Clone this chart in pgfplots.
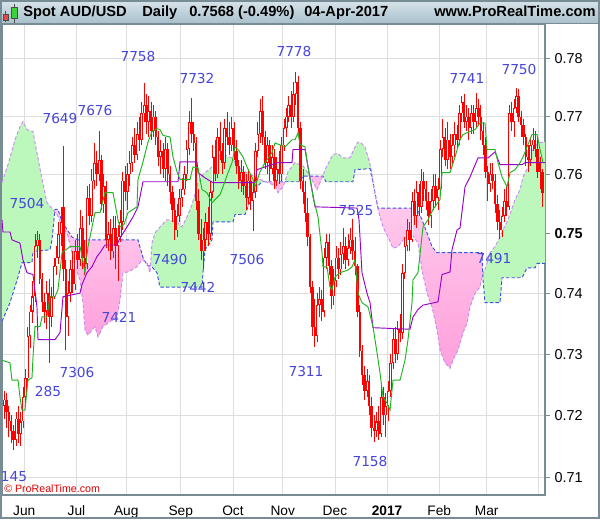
\documentclass[border=0pt]{standalone}
\usepackage{pgfplots}
\pgfplotsset{compat=1.18}
\usepackage{pgfplotstable}
\usepackage{fontspec}
\setmainfont{Liberation Sans}
\newfontfamily\dejavu{DejaVu Sans}

\definecolor{cgreen}{RGB}{188,248,188}
\definecolor{cpink}{RGB}{255,188,230}
\definecolor{cpinktop}{RGB}{255,205,238}
\definecolor{cpinkbot}{RGB}{255,160,220}
\definecolor{clav}{RGB}{200,140,240}
\definecolor{cblue}{RGB}{60,80,230}
\definecolor{ctenkan}{RGB}{30,180,30}
\definecolor{ckijun}{RGB}{150,0,200}
\definecolor{cred}{RGB}{255,0,0}
\definecolor{lblue}{RGB}{70,70,220}
\definecolor{gridc}{RGB}{222,222,222}
\definecolor{axc}{RGB}{120,140,150}
\definecolor{bartop}{RGB}{216,228,234}
\definecolor{barbot}{RGB}{168,192,204}

\pgfplotstableread{
d o h l c
0 0.7215 0.7240 0.7195 0.7225
1 0.7225 0.7235 0.7180 0.7205
2 0.7205 0.7215 0.7165 0.7190
3 0.7190 0.7200 0.7155 0.7175
4 0.7175 0.7185 0.7145 0.7160
5 0.7160 0.7205 0.7150 0.7195
6 0.7195 0.7215 0.7155 0.7170
7 0.7170 0.7205 0.7150 0.7190
8 0.7190 0.7245 0.7180 0.7230
9 0.7230 0.7275 0.7215 0.7260
10 0.7260 0.7345 0.7250 0.7330
11 0.7330 0.7380 0.7310 0.7370
12 0.7370 0.7420 0.7350 0.7395
13 0.7395 0.7500 0.7385 0.7480
14 0.7480 0.7504 0.7460 0.7490
15 0.7490 0.7500 0.7415 0.7425
16 0.7425 0.7435 0.7370 0.7385
17 0.7385 0.7400 0.7350 0.7370
18 0.7370 0.7420 0.7340 0.7400
19 0.7400 0.7425 0.7285 0.7360
20 0.7360 0.7410 0.7345 0.7395
21 0.7395 0.7460 0.7390 0.7445
22 0.7445 0.7480 0.7430 0.7460
23 0.7460 0.7520 0.7450 0.7500
24 0.7500 0.7545 0.7480 0.7520
25 0.7545 0.7649 0.7420 0.7440
26 0.7440 0.7455 0.7306 0.7360
27 0.7360 0.7420 0.7330 0.7400
28 0.7400 0.7455 0.7385 0.7440
29 0.7440 0.7470 0.7400 0.7415
30 0.7415 0.7490 0.7405 0.7470
31 0.7470 0.7500 0.7440 0.7455
32 0.7455 0.7540 0.7445 0.7510
33 0.7510 0.7530 0.7440 0.7460
34 0.7460 0.7490 0.7430 0.7450
35 0.7450 0.7580 0.7440 0.7560
36 0.7560 0.7585 0.7515 0.7530
37 0.7530 0.7610 0.7520 0.7590
38 0.7590 0.7655 0.7575 0.7620
39 0.7620 0.7640 0.7580 0.7600
40 0.7600 0.7676 0.7590 0.7625
41 0.7625 0.7635 0.7540 0.7550
42 0.7550 0.7600 0.7535 0.7580
43 0.7580 0.7590 0.7475 0.7490
44 0.7490 0.7520 0.7470 0.7500
45 0.7500 0.7525 0.7455 0.7470
46 0.7470 0.7530 0.7460 0.7510
47 0.7510 0.7530 0.7440 0.7480
48 0.7480 0.7515 0.7421 0.7495
49 0.7495 0.7540 0.7485 0.7520
50 0.7520 0.7605 0.7505 0.7590
51 0.7590 0.7615 0.7555 0.7570
52 0.7570 0.7620 0.7540 0.7600
53 0.7600 0.7640 0.7580 0.7620
54 0.7620 0.7665 0.7605 0.7650
55 0.7650 0.7680 0.7620 0.7635
56 0.7635 0.7690 0.7625 0.7670
57 0.7670 0.7700 0.7640 0.7660
58 0.7660 0.7725 0.7650 0.7705
59 0.7705 0.7758 0.7690 0.7720
60 0.7720 0.7740 0.7670 0.7690
61 0.7690 0.7735 0.7665 0.7710
62 0.7710 0.7725 0.7660 0.7675
63 0.7675 0.7720 0.7665 0.7700
64 0.7700 0.7710 0.7650 0.7665
65 0.7665 0.7675 0.7615 0.7630
66 0.7630 0.7660 0.7600 0.7640
67 0.7640 0.7655 0.7595 0.7610
68 0.7610 0.7665 0.7590 0.7645
69 0.7645 0.7655 0.7580 0.7600
70 0.7600 0.7615 0.7550 0.7570
71 0.7570 0.7580 0.7520 0.7540
72 0.7540 0.7560 0.7490 0.7505
73 0.7505 0.7550 0.7495 0.7530
74 0.7530 0.7575 0.7520 0.7560
75 0.7560 0.7595 0.7545 0.7575
76 0.7575 0.7615 0.7565 0.7600
77 0.7600 0.7660 0.7590 0.7645
78 0.7645 0.7710 0.7635 0.7690
79 0.7690 0.7732 0.7655 0.7670
80 0.7670 0.7690 0.7640 0.7655
81 0.7655 0.7665 0.7540 0.7555
82 0.7555 0.7575 0.7490 0.7500
83 0.7500 0.7525 0.7455 0.7470
84 0.7470 0.7510 0.7442 0.7490
85 0.7490 0.7535 0.7470 0.7520
86 0.7520 0.7545 0.7480 0.7500
87 0.7500 0.7590 0.7490 0.7570
88 0.7570 0.7650 0.7560 0.7630
89 0.7630 0.7660 0.7590 0.7600
90 0.7600 0.7680 0.7595 0.7665
91 0.7665 0.7690 0.7625 0.7640
92 0.7640 0.7655 0.7600 0.7620
93 0.7620 0.7695 0.7610 0.7680
94 0.7680 0.7708 0.7650 0.7665
95 0.7665 0.7690 0.7635 0.7650
96 0.7650 0.7700 0.7640 0.7680
97 0.7680 0.7690 0.7625 0.7640
98 0.7640 0.7660 0.7600 0.7615
99 0.7615 0.7625 0.7575 0.7590
100 0.7590 0.7625 0.7570 0.7605
101 0.7605 0.7615 0.7565 0.7580
102 0.7580 0.7600 0.7540 0.7560
103 0.7560 0.7610 0.7550 0.7590
104 0.7590 0.7600 0.7540 0.7555
105 0.7555 0.7590 0.7506 0.7570
106 0.7570 0.7655 0.7560 0.7640
107 0.7640 0.7690 0.7630 0.7670
108 0.7670 0.7730 0.7655 0.7710
109 0.7710 0.7735 0.7650 0.7665
110 0.7665 0.7675 0.7610 0.7620
111 0.7620 0.7665 0.7600 0.7650
112 0.7650 0.7660 0.7590 0.7610
113 0.7610 0.7650 0.7600 0.7630
114 0.7630 0.7645 0.7575 0.7590
115 0.7590 0.7630 0.7580 0.7610
116 0.7610 0.7640 0.7585 0.7600
117 0.7600 0.7665 0.7590 0.7650
118 0.7650 0.7695 0.7640 0.7680
119 0.7680 0.7715 0.7665 0.7700
120 0.7700 0.7735 0.7690 0.7720
121 0.7720 0.7745 0.7680 0.7700
122 0.7700 0.7760 0.7690 0.7740
123 0.7740 0.7778 0.7720 0.7760
124 0.7760 0.7770 0.7670 0.7680
125 0.7680 0.7690 0.7575 0.7590
126 0.7590 0.7610 0.7550 0.7570
127 0.7570 0.7590 0.7520 0.7535
128 0.7535 0.7560 0.7480 0.7495
129 0.7495 0.7500 0.7400 0.7410
130 0.7410 0.7420 0.7330 0.7345
131 0.7345 0.7390 0.7311 0.7330
132 0.7330 0.7400 0.7320 0.7380
133 0.7380 0.7410 0.7360 0.7390
134 0.7390 0.7405 0.7355 0.7370
135 0.7370 0.7475 0.7360 0.7460
136 0.7460 0.7500 0.7440 0.7485
137 0.7485 0.7500 0.7430 0.7445
138 0.7445 0.7455 0.7375 0.7395
139 0.7395 0.7440 0.7380 0.7420
140 0.7420 0.7480 0.7410 0.7460
141 0.7460 0.7475 0.7425 0.7440
142 0.7440 0.7485 0.7430 0.7465
143 0.7465 0.7510 0.7450 0.7480
144 0.7480 0.7495 0.7440 0.7455
145 0.7455 0.7500 0.7445 0.7475
146 0.7475 0.7510 0.7465 0.7490
147 0.7490 0.7525 0.7455 0.7470
148 0.7470 0.7495 0.7430 0.7445
149 0.7445 0.7450 0.7360 0.7370
150 0.7370 0.7380 0.7295 0.7305
151 0.7305 0.7315 0.7250 0.7265
152 0.7265 0.7280 0.7225 0.7240
153 0.7240 0.7275 0.7230 0.7255
154 0.7255 0.7265 0.7200 0.7215
155 0.7215 0.7230 0.7165 0.7180
156 0.7180 0.7200 0.7158 0.7175
157 0.7175 0.7205 0.7165 0.7190
158 0.7190 0.7215 0.7160 0.7170
159 0.7170 0.7250 0.7165 0.7230
160 0.7230 0.7245 0.7185 0.7200
161 0.7200 0.7235 0.7165 0.7215
162 0.7215 0.7255 0.7190 0.7240
163 0.7240 0.7300 0.7230 0.7285
164 0.7285 0.7340 0.7275 0.7325
165 0.7325 0.7345 0.7285 0.7300
166 0.7300 0.7355 0.7290 0.7340
167 0.7340 0.7365 0.7320 0.7335
168 0.7335 0.7450 0.7325 0.7435
169 0.7435 0.7495 0.7425 0.7480
170 0.7480 0.7525 0.7470 0.7505
171 0.7505 0.7520 0.7470 0.7490
172 0.7490 0.7570 0.7485 0.7555
173 0.7555 0.7575 0.7515 0.7530
174 0.7530 0.7590 0.7510 0.7570
175 0.7570 0.7585 0.7530 0.7545
176 0.7545 0.7610 0.7535 0.7590
177 0.7590 0.7605 0.7555 0.7575
178 0.7575 0.7590 0.7540 0.7555
179 0.7555 0.7570 0.7515 0.7530
180 0.7530 0.7575 0.7510 0.7555
181 0.7555 0.7600 0.7540 0.7580
182 0.7580 0.7600 0.7545 0.7560
183 0.7560 0.7595 0.7540 0.7575
184 0.7575 0.7660 0.7565 0.7645
185 0.7645 0.7695 0.7630 0.7665
186 0.7665 0.7680 0.7615 0.7625
187 0.7625 0.7690 0.7610 0.7660
188 0.7660 0.7670 0.7610 0.7630
189 0.7630 0.7670 0.7615 0.7650
190 0.7650 0.7690 0.7630 0.7670
191 0.7670 0.7685 0.7645 0.7660
192 0.7660 0.7720 0.7650 0.7705
193 0.7705 0.7735 0.7690 0.7725
194 0.7725 0.7740 0.7680 0.7690
195 0.7690 0.7720 0.7675 0.7700
196 0.7700 0.7715 0.7660 0.7680
197 0.7680 0.7720 0.7670 0.7705
198 0.7705 0.7720 0.7670 0.7690
199 0.7690 0.7741 0.7680 0.7715
200 0.7715 0.7730 0.7685 0.7700
201 0.7700 0.7720 0.7660 0.7675
202 0.7675 0.7690 0.7635 0.7650
203 0.7650 0.7665 0.7595 0.7605
204 0.7605 0.7615 0.7555 0.7585
205 0.7585 0.7620 0.7570 0.7600
206 0.7600 0.7620 0.7575 0.7590
207 0.7590 0.7600 0.7535 0.7550
208 0.7550 0.7565 0.7505 0.7520
209 0.7520 0.7540 0.7491 0.7505
210 0.7505 0.7545 0.7495 0.7530
211 0.7530 0.7575 0.7520 0.7555
212 0.7555 0.7580 0.7530 0.7545
213 0.7545 0.7720 0.7540 0.7705
214 0.7705 0.7725 0.7675 0.7690
215 0.7690 0.7730 0.7665 0.7715
216 0.7715 0.7750 0.7705 0.7735
217 0.7735 0.7748 0.7690 0.7700
218 0.7700 0.7710 0.7665 0.7685
219 0.7685 0.7695 0.7650 0.7665
220 0.7665 0.7670 0.7615 0.7630
221 0.7630 0.7650 0.7605 0.7625
222 0.7625 0.7665 0.7615 0.7650
223 0.7650 0.7680 0.7640 0.7660
224 0.7660 0.7675 0.7630 0.7645
225 0.7645 0.7665 0.7595 0.7605
226 0.7620 0.7630 0.7575 0.7605
227 0.7605 0.7610 0.7545 0.7568
}\candles

\pgfplotstableread{
d p
-0.9 0.72902
2.47 0.72853
3.31 0.72575
5.85 0.72575
6.68 0.72297
7.53 0.72085
8.79 0.72085
10.06 0.72575
11.75 0.72608
12.17 0.72951
13.01 0.73446
15.12 0.73446
16.0 0.73611
18.07 0.73611
19.34 0.73942
21.45 0.73942
22.71 0.74059
24.40 0.74678
27.77 0.74779
32.0 0.74779
32.83 0.74611
34.10 0.74343
35.37 0.74779
38.32 0.75353
40.43 0.75353
42.54 0.75692
45.91 0.75692
48.02 0.75234
48.86 0.75115
50.55 0.75149
52.23 0.75353
56.03 0.75454
56.45 0.75913
58.56 0.76221
60.67 0.76564
62.36 0.76736
64.47 0.76788
65.73 0.76771
67.0 0.76667
69.95 0.76650
71.22 0.76307
72.9 0.76050
74.17 0.75913
78.39 0.75913
79.65 0.76135
81.76 0.76118
83.44 0.75743
85.55 0.75692
87.66 0.75522
88.93 0.75573
91.04 0.75658
92.30 0.75794
94.41 0.76033
96.1 0.76204
97.36 0.76478
98.63 0.76426
100.74 0.76307
102.43 0.76135
104.96 0.75913
105.80 0.75794
107.91 0.76050
110.02 0.76204
112.97 0.76375
114.24 0.76547
118.46 0.76478
121.40 0.76598
122.67 0.76598
123.94 0.76719
124.78 0.76512
126.89 0.76478
128.15 0.76135
130.26 0.75624
132.37 0.75285
134.06 0.74678
134.48 0.74443
136.16 0.74443
137.43 0.74109
138.27 0.74059
139.54 0.74276
141.64 0.74343
145.02 0.74393
146.71 0.74443
147.97 0.74560
149.24 0.74008
150.92 0.73843
153.45 0.73776
155.56 0.73446
157.25 0.73017
158.52 0.72690
159.78 0.72297
161.47 0.72199
162.74 0.72085
164.00 0.72575
166.95 0.72575
169.06 0.72902
170.33 0.73231
172.01 0.73843
172.43 0.74226
174.54 0.74343
176.65 0.75115
178.76 0.75234
180.87 0.75403
183.83 0.75573
184.67 0.76033
188.04 0.76033
190.15 0.76307
192.26 0.76598
193.53 0.76684
198.59 0.76771
200.70 0.76891
202.80 0.76891
203.65 0.76426
207.02 0.76426
208.29 0.76204
209.97 0.75964
212.08 0.75794
213.35 0.76033
215.46 0.76084
217.57 0.76204
218.83 0.76307
220.52 0.76478
222.63 0.76684
224.74 0.76684
226.0 0.76426
227.27 0.76204
}\tenkan

\pgfplotstableread{
d p
-0.9 0.75234
-0.49 0.75031
2.47 0.75031
3.31 0.74896
6.68 0.74846
7.95 0.74560
9.64 0.74343
12.17 0.74309
13.85 0.73776
14.28 0.73231
21.45 0.73231
23.56 0.73347
24.82 0.73942
32.0 0.74008
32.83 0.74142
34.94 0.74343
37.05 0.74443
39.16 0.74611
40.43 0.74678
42.54 0.74812
47.6 0.74812
48.86 0.74930
51.81 0.75115
54.34 0.75285
56.45 0.75454
58.56 0.75879
73.32 0.75879
74.17 0.76221
81.34 0.76221
81.76 0.76033
84.71 0.75947
88.09 0.75862
105.80 0.75862
106.64 0.76084
110.02 0.76135
115.50 0.76204
121.40 0.76204
121.82 0.76426
126.89 0.76426
128.15 0.76135
129.84 0.75743
131.11 0.75454
148.82 0.75437
149.66 0.75234
150.92 0.74343
153.03 0.74008
154.30 0.73843
155.56 0.73429
171.17 0.73413
172.43 0.73611
174.54 0.73727
176.65 0.73810
182.98 0.73859
184.67 0.74309
188.04 0.74359
188.88 0.74728
191.0 0.75064
192.26 0.75098
194.37 0.75794
196.48 0.75964
199.85 0.76289
204.07 0.76289
207.02 0.76392
209.13 0.76170
218.41 0.76170
219.68 0.76204
228.1 0.76204
}\kijun

\pgfplotstableread{
d p
-0.9 0.75862
1.62 0.76170
4.58 0.76598
6.68 0.76822
7.95 0.76908
9.64 0.76771
12.17 0.76736
13.85 0.76375
16.0 0.75913
18.07 0.75522
20.60 0.75403
22.71 0.75302
24.40 0.75115
26.51 0.75014
28.62 0.74678
29.88 0.74443
32.0 0.74226
33.26 0.73843
34.10 0.73396
35.37 0.73314
37.05 0.73396
38.32 0.73446
39.58 0.73281
41.69 0.73446
44.65 0.73528
47.6 0.73594
48.86 0.73892
50.13 0.74343
52.23 0.74359
56.03 0.74443
58.14 0.74560
60.25 0.74510
61.51 0.74343
62.36 0.74846
63.62 0.75014
65.73 0.75115
68.68 0.75234
72.90 0.75200
75.01 0.75115
77.12 0.75285
79.23 0.75488
81.76 0.75862
83.87 0.75998
87.66 0.76135
88.93 0.76307
91.88 0.76341
96.10 0.76289
98.63 0.76135
101.58 0.76050
105.80 0.75964
107.91 0.75913
112.12 0.75845
114.24 0.75811
115.50 0.75692
117.61 0.75794
119.72 0.76050
122.67 0.76204
126.05 0.76153
129.0 0.75981
131.95 0.75743
134.06 0.75947
135.74 0.76118
138.69 0.76341
140.80 0.76358
142.91 0.76289
145.86 0.76289
147.97 0.76478
149.24 0.76564
150.50 0.76547
152.19 0.76478
153.45 0.76307
154.72 0.76118
156.41 0.75658
157.67 0.75403
159.78 0.75115
161.89 0.74946
164.0 0.74762
166.11 0.74779
168.22 0.74896
170.33 0.74930
172.43 0.74963
174.54 0.74846
176.23 0.74393
178.35 0.74008
180.46 0.73776
182.57 0.73396
183.83 0.73066
185.94 0.72853
188.04 0.72771
189.31 0.72902
191.42 0.73066
193.53 0.73347
195.21 0.73512
196.48 0.73776
198.59 0.74008
200.70 0.74109
201.96 0.74343
202.80 0.74393
204.91 0.74678
207.02 0.74779
209.13 0.74946
210.39 0.75064
212.50 0.75234
215.46 0.75573
217.57 0.75743
218.83 0.75964
220.94 0.76135
223.05 0.76426
225.16 0.76547
228.1 0.76564
}\spanA

\pgfplotstableread{
d p
-0.9 0.73540
2.47 0.73843
5.85 0.74276
7.53 0.74510
11.75 0.74510
12.17 0.74695
19.34 0.74728
20.18 0.74896
21.45 0.75403
22.71 0.75403
24.40 0.75200
28.62 0.74946
31.15 0.74896
56.45 0.74896
58.56 0.74594
60.25 0.74477
62.36 0.74443
64.47 0.74343
65.73 0.74109
83.44 0.74109
83.87 0.74343
84.71 0.74728
87.66 0.74896
88.09 0.75200
96.52 0.75200
97.36 0.75319
101.58 0.75319
102.85 0.75454
104.53 0.75624
106.64 0.75794
108.75 0.75879
124.78 0.75879
126.05 0.75981
134.48 0.75981
135.74 0.75879
147.13 0.75879
147.97 0.76084
154.30 0.76101
155.56 0.75862
157.67 0.75437
174.12 0.75437
176.23 0.75234
178.35 0.75014
180.46 0.74779
182.57 0.74678
201.54 0.74678
201.96 0.74226
202.80 0.73843
209.13 0.73843
209.97 0.74259
218.41 0.74259
220.52 0.74426
223.89 0.74426
224.74 0.74493
228.1 0.74493
}\spanB

% cloud polygons: span A forward, span B backward
\pgfplotstableread{
d p
-0.9 0.75862
1.62 0.76170
4.58 0.76598
6.68 0.76822
7.95 0.76908
9.64 0.76771
12.17 0.76736
13.85 0.76375
16.0 0.75913
18.07 0.75522
20.60 0.75403
21.35 0.75370
20.18 0.74896
19.34 0.74728
12.17 0.74695
11.75 0.74510
7.53 0.74510
5.85 0.74276
2.47 0.73843
-0.9 0.73540
}\gA

\pgfplotstableread{
d p
21.35 0.75370
22.71 0.75302
24.40 0.75115
26.51 0.75014
28.62 0.74678
29.88 0.74443
32.0 0.74226
33.26 0.73843
34.10 0.73396
35.37 0.73314
37.05 0.73396
38.32 0.73446
39.58 0.73281
41.69 0.73446
44.65 0.73528
47.6 0.73594
48.86 0.73892
50.13 0.74343
52.23 0.74359
56.03 0.74443
58.14 0.74560
60.25 0.74510
61.51 0.74343
61.70 0.74450
60.25 0.74477
58.56 0.74594
56.45 0.74896
31.15 0.74896
28.62 0.74946
24.40 0.75200
22.71 0.75403
21.45 0.75403
}\pA

\pgfplotstableread{
d p
61.70 0.74450
62.36 0.74846
63.62 0.75014
65.73 0.75115
68.68 0.75234
72.90 0.75200
75.01 0.75115
77.12 0.75285
79.23 0.75488
81.76 0.75862
83.87 0.75998
87.66 0.76135
88.93 0.76307
91.88 0.76341
96.10 0.76289
98.63 0.76135
101.58 0.76050
105.80 0.75964
107.91 0.75913
110.00 0.75879
108.75 0.75879
106.64 0.75794
104.53 0.75624
102.85 0.75454
101.58 0.75319
97.36 0.75319
96.52 0.75200
88.09 0.75200
87.66 0.74896
84.71 0.74728
83.87 0.74343
83.44 0.74109
65.73 0.74109
64.47 0.74343
62.36 0.74443
}\gB

\pgfplotstableread{
d p
110.00 0.75879
112.12 0.75845
114.24 0.75811
115.50 0.75692
117.61 0.75794
118.31 0.75879
}\pB

\pgfplotstableread{
d p
118.31 0.75879
119.72 0.76050
122.67 0.76204
126.05 0.76153
129.0 0.75981
126.05 0.75981
124.78 0.75879
}\gC

\pgfplotstableread{
d p
129.0 0.75981
131.95 0.75743
134.06 0.75947
134.40 0.75981
}\pC

\pgfplotstableread{
d p
134.40 0.75981
135.74 0.76118
138.69 0.76341
140.80 0.76358
142.91 0.76289
145.86 0.76289
147.97 0.76478
149.24 0.76564
150.50 0.76547
152.19 0.76478
153.45 0.76307
154.72 0.76118
155.90 0.75780
155.56 0.75862
154.30 0.76101
147.97 0.76084
147.13 0.75879
135.74 0.75879
134.48 0.75981
}\gD

\pgfplotstableread{
d p
155.90 0.75780
156.41 0.75658
157.67 0.75403
159.78 0.75115
161.89 0.74946
164.0 0.74762
166.11 0.74779
168.22 0.74896
170.33 0.74930
172.43 0.74963
174.54 0.74846
176.23 0.74393
178.35 0.74008
180.46 0.73776
182.57 0.73396
183.83 0.73066
185.94 0.72853
188.04 0.72771
189.31 0.72902
191.42 0.73066
193.53 0.73347
195.21 0.73512
196.48 0.73776
198.59 0.74008
200.70 0.74109
201.85 0.74310
201.54 0.74678
182.57 0.74678
180.46 0.74779
178.35 0.75014
176.23 0.75234
174.12 0.75437
157.67 0.75437
}\pD

\pgfplotstableread{
d p
201.85 0.74310
201.96 0.74343
202.80 0.74393
204.91 0.74678
207.02 0.74779
209.13 0.74946
210.39 0.75064
212.50 0.75234
215.46 0.75573
217.57 0.75743
218.83 0.75964
220.94 0.76135
223.05 0.76426
225.16 0.76547
228.1 0.76564
228.1 0.74493
224.74 0.74493
223.89 0.74426
220.52 0.74426
218.41 0.74259
209.97 0.74259
209.13 0.73843
202.80 0.73843
201.96 0.74226
}\gE

\begin{document}
\begin{tikzpicture}
\fill[white] (0,0) rectangle (450pt,389.25pt);
\begin{axis}[
  at={(1.5pt,18pt)}, anchor=south west,
  scale only axis, width=407.25pt, height=353.25pt,
  xmin=-0.9, xmax=228.1,
  ymode=log, ymin=0.7072, ymax=0.78621,
  xtick={8.5,30.5,51.5,74.5,96.5,117.5,139.5,161.5,183.5,203.5,225.5},
  xticklabels={Jun,Jul,Aug,Sep,Oct,Nov,Dec,\textbf{2017},Feb,Mar,},
  ytick={0.71,0.72,0.73,0.74,0.75,0.76,0.77,0.78},
  yticklabels={0.71,0.72,0.73,0.74,\textbf{0.75},0.76,0.77,0.78},
  minor tick num=0,
  yticklabel pos=right, ytick pos=right, xtick pos=bottom,
  tick align=outside, major tick length=3.75pt,
  xtick style={draw=none}, ytick style={draw=axc, line width=0.6pt},
  grid=major, major grid style={draw=gridc, line width=0.6pt},
  axis line style={draw=axc, line width=0.8pt},
  x tick label style={font=\fontsize{10.3}{12}\selectfont, yshift=-1pt},
  y tick label style={font=\fontsize{10.8}{12}\selectfont, text=black},
]
% cloud fills
\addplot[fill=cgreen, draw=none] table[x=d,y=p] {\gA};
\addplot[draw=none, top color=cpinktop, bottom color=cpinkbot] table[x=d,y=p] {\pA};
\addplot[fill=cgreen, draw=none] table[x=d,y=p] {\gB};
\addplot[fill=cpink, draw=none] table[x=d,y=p] {\pB};
\addplot[fill=cgreen, draw=none] table[x=d,y=p] {\gC};
\addplot[fill=cpink, draw=none] table[x=d,y=p] {\pC};
\addplot[fill=cgreen, draw=none] table[x=d,y=p] {\gD};
\addplot[draw=none, top color=cpinktop, bottom color=cpinkbot] table[x=d,y=p] {\pD};
\addplot[fill=cgreen, draw=none] table[x=d,y=p] {\gE};
% cloud edges
\addplot[draw=cblue, line width=0.7pt, dash pattern=on 2.6pt off 1.6pt] table[x=d,y=p] {\spanB};
\addplot[draw=clav, line width=0.7pt, dash pattern=on 2.6pt off 1.6pt] table[x=d,y=p] {\spanA};
% wicks
\addplot[draw=none, mark=none, error bars/.cd, y dir=plus, y explicit, error mark=none,
  error bar style={draw=cred, line width=0.6pt}]
  table[x=d, y=l, y error expr=\thisrow{h}-\thisrow{l}] {\candles};
% bodies
\addplot[draw=none, mark=none, error bars/.cd, y dir=plus, y explicit, error mark=none,
  error bar style={draw=cred, line width=1.8pt}]
  table[x=d, y expr={min(\thisrow{o},\thisrow{c})}, y error expr={abs(\thisrow{o}-\thisrow{c})}] {\candles};
% hollow interior of up candles
\addplot[draw=none, mark=none, error bars/.cd, y dir=plus, y explicit, error mark=none,
  error bar style={draw=white, line width=0.6pt}]
  table[x=d, y expr={\thisrow{o}+0.00014}, y error expr={max(\thisrow{c}-\thisrow{o}-0.00028,0)}] {\candles};
\addplot[ckijun, line width=0.7pt] table[x=d,y=p] {\kijun};
\addplot[ctenkan, line width=0.7pt] table[x=d,y=p] {\tenkan};
\end{axis}

\begin{scope}[shift={(0,389.25pt)}, x=0.75pt, y=-0.75pt]
  % title bar
  \shade[top color=bartop, bottom color=barbot] (0,0) rectangle (600,23.5);
  \draw[axc, line width=0.75pt] (0,23.5) -- (600,23.5);
  % icon
  \draw[black!70, line width=0.5pt] (5.8,11.5) -- (5.8,22);
  \filldraw[fill={rgb,255:red,235;green,70;blue,70}, draw=black!70, line width=0.4pt] (3.2,14) rectangle (8.4,20);
  \draw[black!70, line width=0.5pt] (14,4) -- (14,23);
  \filldraw[fill={rgb,255:red,60;green,210;blue,60}, draw=black!70, line width=0.4pt] (10.9,7) rectangle (17.1,18);
  % title texts
  \begin{scope}[every node/.style={anchor=base west, inner sep=0pt, font=\bfseries\fontsize{11}{13}\selectfont}]
    \node at (23,17) {Spot AUD/USD};
    \node at (142,17) {Daily};
    \node at (189,17) {0.7568 (-0.49\%)};
    \node at (304,17) {04-Apr-2017};
    \node at (434,17) {www.ProRealTime.com};
  \end{scope}
  % pivot labels
  \begin{scope}[every node/.style={inner sep=0pt, text=lblue, font=\dejavu\fontsize{10.3}{12}\selectfont}]
    \node at (138,57) {7758};
    \node at (60,119) {7649};
    \node at (95,111) {7676};
    \node at (27,203) {7504};
    \node at (119,317) {7421};
    \node at (77,372) {7306};
    \node at (48,391) {285};
    \node at (14,477) {145};
    \node at (197,79) {7732};
    \node at (170,259) {7490};
    \node at (198,287) {7442};
    \node at (247,259) {7506};
    \node at (294,52) {7778};
    \node at (306,371) {7311};
    \node at (356,210) {7525};
    \node at (370,461) {7158};
    \node at (467,78) {7741};
    \node at (519,70) {7750};
    \node at (494,258) {7491};
  \end{scope}
  \node[anchor=base west, inner sep=0pt, text={rgb,255:red,220;green,0;blue,0}, font=\fontsize{8}{9}\selectfont] at (4,492) {\textcopyright\ ProRealTime.com};
  % outer border
  \draw[axc, line width=1.2pt] (0.8,0.8) rectangle (599.2,518.2);
\end{scope}
\pgfresetboundingbox
\useasboundingbox (0,0) rectangle (450pt,389.25pt);
\end{tikzpicture}
\end{document}
